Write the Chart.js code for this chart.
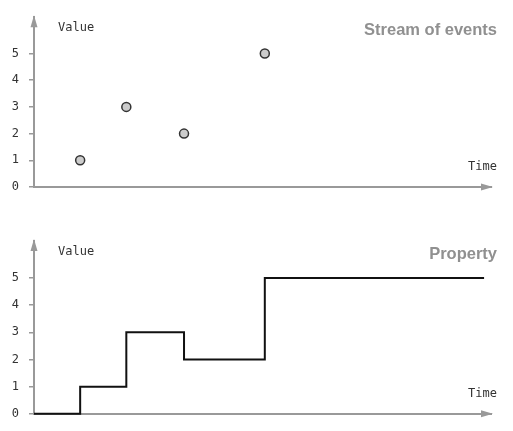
<!DOCTYPE html>
<html><head><meta charset="utf-8">
<script src="https://cdn.jsdelivr.net/npm/chart.js@4"></script>
<style>html,body{margin:0;padding:0;background:#fff;} canvas{display:block;}</style>
</head><body>
<canvas id="c1" width="513" height="215"></canvas>
<canvas id="c2" width="513" height="216"></canvas>
<script>
// ---- data ----
const eventTimes = [1, 2, 3.25, 5];
const eventValues = [1, 3, 2, 5];
const propertyTimes = [0, 1, 2, 3.25, 5, 9.75];
const propertyValues = [0, 1, 3, 2, 5, 5];
const yTicks = [0, 1, 2, 3, 4, 5];
const chartTitles = ['Stream of events', 'Property'];
const yAxisLabel = 'Value';
const xAxisLabel = 'Time';

const AXIS = '#999999';
const MONO = '"DejaVu Sans Mono", monospace';

const decor = {
  id: 'decor',
  afterDraw(chart, args, opts) {
    const ctx = chart.ctx, a = chart.chartArea;
    ctx.save();
    // arrow heads
    ctx.fillStyle = AXIS;
    ctx.beginPath();
    ctx.moveTo(a.left, a.top - 2);
    ctx.lineTo(a.left - 3.5, a.top + 10);
    ctx.lineTo(a.left + 3.5, a.top + 10);
    ctx.closePath(); ctx.fill();
    ctx.beginPath();
    ctx.moveTo(a.right + 2, a.bottom);
    ctx.lineTo(a.right - 10, a.bottom - 3.5);
    ctx.lineTo(a.right - 10, a.bottom + 3.5);
    ctx.closePath(); ctx.fill();
    // title
    ctx.fillStyle = '#909090';
    ctx.font = 'bold 16.5px "Liberation Sans", Arial, sans-serif';
    ctx.textAlign = 'right'; ctx.textBaseline = 'alphabetic';
    ctx.fillText(opts.title, chart.width - 16, a.top + 18);
    // axis labels
    ctx.fillStyle = '#333333';
    ctx.font = '12px ' + MONO;
    ctx.textAlign = 'left';
    ctx.fillText(yAxisLabel, a.left + 24, a.top + 14);
    ctx.textAlign = 'right';
    ctx.fillText(xAxisLabel, chart.width - 16, a.bottom - 17);
    ctx.restore();
  }
};

function makeOptions(title, padTop, xHeight) {
  return {
    responsive: false,
    animation: false,
    layout: { padding: { top: padTop, right: 22, left: 0, bottom: 0 } },
    plugins: { legend: { display: false }, tooltip: { enabled: false }, decor: { title } },
    scales: {
      x: {
        type: 'linear', min: 0, max: 9.9,
        grid: { display: false },
        border: { display: true, color: AXIS, width: 2 },
        ticks: { display: false },
        afterFit(s) { s.height = xHeight; }
      },
      y: {
        type: 'linear', min: 0, max: 6.36,
        afterBuildTicks(s) { s.ticks = yTicks.map(v => ({ value: v })); },
        grid: { display: true, drawOnChartArea: false, drawTicks: true, tickLength: 5, color: AXIS, lineWidth: 1.5 },
        border: { display: true, color: AXIS, width: 2 },
        ticks: { color: '#333333', font: { family: MONO, size: 12 }, padding: 10 },
        afterFit(s) { s.width = 34; }
      }
    }
  };
}

new Chart(document.getElementById('c1'), {
  type: 'scatter',
  data: {
    datasets: [{
      data: eventTimes.map((t, i) => ({ x: t, y: eventValues[i] })),
      pointRadius: 4.5,
      pointBackgroundColor: '#cccccc',
      pointBorderColor: '#333333',
      pointBorderWidth: 1.5,
      clip: false
    }]
  },
  options: makeOptions(chartTitles[0], 14, 28),
  plugins: [decor]
});

new Chart(document.getElementById('c2'), {
  type: 'line',
  data: {
    datasets: [{
      data: propertyTimes.map((t, i) => ({ x: t, y: propertyValues[i] })),
      stepped: 'before',
      borderColor: '#111111',
      borderWidth: 2,
      pointRadius: 0,
      fill: false,
      clip: false
    }]
  },
  options: makeOptions(chartTitles[1], 26, 17),
  plugins: [decor]
});
</script>
</body></html>
